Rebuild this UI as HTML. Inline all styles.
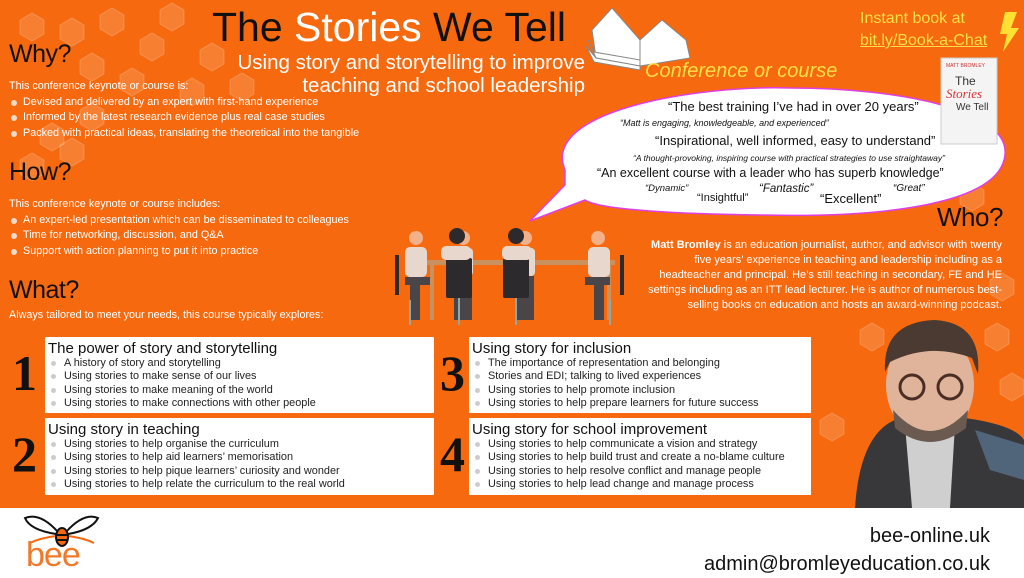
<!DOCTYPE html>
<html><head><meta charset="utf-8"><style>
*{margin:0;padding:0;box-sizing:border-box}
body{width:1024px;height:578px;overflow:hidden;background:#fff;font-family:"Liberation Sans",sans-serif;position:relative}
.or{position:absolute;left:0;top:0;width:1024px;height:508px;background:#f6690e}
.a{position:absolute;white-space:nowrap}
.h{font-size:25px;color:#111;letter-spacing:-0.5px}
.w{color:#fff;font-size:10.8px;line-height:15.5px}
.w li{list-style:none;padding-left:14px;position:relative}
.w li:before{content:"";position:absolute;left:2px;top:5px;width:6px;height:6px;border-radius:50%;background:#f3d9c8}
.box{position:absolute;background:#fff;padding:3px 0 0 3px}
.box .t{font-size:15px;color:#111;line-height:17px}
.box li{list-style:none;font-size:10.9px;color:#222;line-height:13.3px;padding-left:16px;position:relative}
.box li:before{content:"";position:absolute;left:3px;top:4px;width:5px;height:5px;border-radius:50%;background:#ccc}
.num{position:absolute;font-family:"Liberation Serif",serif;font-weight:bold;font-size:50px;color:#111}
.q{position:absolute;white-space:nowrap;color:#111}
</style></head><body>
<div class="or"></div>
<svg class="a" style="left:0;top:0" width="1024" height="508">
<g fill="#ffffff" fill-opacity="0.15" stroke="#fff" stroke-opacity="0.2">
<polygon points="20,20 32,13 44,20 44,34 32,41 20,34"/><polygon points="60,25 72,18 84,25 84,39 72,46 60,39"/>
<polygon points="100,15 112,8 124,15 124,29 112,36 100,29"/><polygon points="140,40 152,33 164,40 164,54 152,61 140,54"/>
<polygon points="80,60 92,53 104,60 104,74 92,81 80,74"/><polygon points="120,75 132,68 144,75 144,89 132,96 120,89"/>
<polygon points="160,10 172,3 184,10 184,24 172,31 160,24"/><polygon points="200,50 212,43 224,50 224,64 212,71 200,64"/>
<polygon points="180,85 192,78 204,85 204,99 192,106 180,99"/><polygon points="40,130 52,123 64,130 64,144 52,151 40,144"/>
<polygon points="80,110 92,103 104,110 104,124 92,131 80,124"/><polygon points="20,160 32,153 44,160 44,174 32,181 20,174"/>
<polygon points="230,80 242,73 254,80 254,94 242,101 230,94"/>
<polygon points="60,145 72,138 84,145 84,159 72,166 60,159"/>
<polygon points="960,190 972,183 984,190 984,204 972,211 960,204"/><polygon points="990,280 1002,273 1014,280 1014,294 1002,301 990,294"/>
<polygon points="1000,380 1012,373 1024,380 1024,394 1012,401 1000,394"/><polygon points="860,330 872,323 884,330 884,344 872,351 860,344"/>
<polygon points="985,330 997,323 1009,330 1009,344 997,351 985,344"/><polygon points="820,420 832,413 844,420 844,434 832,441 820,434"/>
</g>
<path d="M565,170 C540,110 700,85 790,88 C900,88 1010,110 1005,155 C1000,205 880,218 760,215 C680,214 600,210 585,200 L530,221 L565,185 Z" fill="#fff" stroke="#e040e0" stroke-width="1.5"/>
<g stroke="#888" stroke-width="1" fill="#fff">
<path d="M592,30 L612,8 L640,40 L640,66 L596,58 Z"/><path d="M640,40 L662,20 L686,40 L690,58 L640,66 Z"/>
<path d="M588,40 L596,58 L640,66 L640,60 L594,52 Z"/><path d="M586,46 L594,62 L640,70 L640,66 L596,58 Z"/>
</g>
<path d="M1005,12 L1017,12 L1011,28 L1019,28 L1003,52 L1007,34 L1000,34 Z" fill="#ffe033"/>
<rect x="941" y="58" width="56" height="86" fill="#f4f4f4" stroke="#ccc"/>
<text x="946" y="67" font-size="5" fill="#c33" font-family="Liberation Sans">MATT BROMLEY</text>
<text x="955" y="85" font-size="12" fill="#333" font-family="Liberation Sans">The</text>
<text x="946" y="98" font-size="13" fill="#d33" font-style="italic" font-family="Liberation Serif">Stories</text>
<text x="956" y="110" font-size="10" fill="#333" font-family="Liberation Sans">We Tell</text>
<g>
<rect x="425" y="260" width="190" height="5" fill="#c9915e"/>
<rect x="430" y="265" width="4" height="55" fill="#c9915e"/><rect x="607" y="265" width="4" height="55" fill="#c9915e"/>
<g fill="#e8d7cc"><rect x="405" y="247" width="22" height="30" rx="5"/><rect x="453" y="248" width="20" height="28" rx="4"/><rect x="515" y="248" width="20" height="28" rx="4"/><rect x="588" y="247" width="22" height="30" rx="5"/></g>
<g fill="#4a4548"><rect x="405" y="277" width="25" height="8"/><rect x="410" y="285" width="10" height="35"/><rect x="454" y="276" width="18" height="44"/><rect x="516" y="276" width="18" height="44"/><rect x="585" y="277" width="25" height="8"/><rect x="594" y="285" width="10" height="35"/></g>
<g fill="#f3b089"><circle cx="416" cy="238" r="7"/><circle cx="463" cy="238" r="7"/><circle cx="525" cy="238" r="7"/><circle cx="598" cy="238" r="7"/></g>
<g fill="#2c2a2c"><rect x="446" y="258" width="26" height="40" rx="2"/><rect x="503" y="258" width="26" height="40" rx="2"/><circle cx="457" cy="236" r="8"/><circle cx="516" cy="236" r="8"/><rect x="395" y="255" width="4" height="40"/><rect x="620" y="255" width="4" height="40"/></g>
<g fill="#e8d7cc"><rect x="441" y="246" width="30" height="14" rx="5"/><rect x="502" y="246" width="30" height="14" rx="5"/></g>
<g stroke="#8aa" stroke-width="2"><line x1="410" y1="300" x2="410" y2="325"/><line x1="459" y1="298" x2="459" y2="325"/><line x1="516" y1="298" x2="516" y2="325"/><line x1="610" y1="300" x2="610" y2="325"/></g>
</g>
<path d="M855,508 Q860,430 900,418 L965,418 Q1015,425 1024,440 L1024,508 Z" fill="#38383a"/>
<path d="M905,425 L955,425 L950,508 L912,508 Z" fill="#cfcfcf"/>
<path d="M975,430 L1024,445 L1024,480 L990,470 Z" fill="#50657a"/>
<ellipse cx="930" cy="385" rx="44" ry="54" fill="#e0b49a"/>
<path d="M885,372 Q882,322 935,320 Q982,323 978,374 L972,358 Q930,342 890,362 Z" fill="#4a3a32"/>
<path d="M893,410 Q930,452 968,410 L966,428 Q930,456 895,428 Z" fill="#6a5a50"/>
<g fill="none" stroke="#4a2e24" stroke-width="3"><circle cx="912" cy="387" r="12"/><circle cx="950" cy="387" r="12"/></g>
</svg>

<div class="a" style="left:212px;top:4px;font-size:41px;line-height:46px;color:#111">The <span style="color:#fff">Stories</span> We Tell</div>
<div class="a" style="left:185px;top:51px;width:400px;text-align:right;font-size:20.5px;line-height:23px;color:#fff">Using story and storytelling to improve<br>teaching and school leadership</div>
<div class="a" style="left:645px;top:60px;font-size:20px;font-style:italic;color:#ffe04a">Conference or course</div>
<div class="a" style="left:860px;top:8px;width:162px;text-align:left;font-size:16px;line-height:22px;color:#ffe04a">Instant book at<br><span style="text-decoration:underline">bit.ly/Book-a-Chat</span></div>

<div class="a h" style="left:9px;top:40px">Why?</div>
<div class="a w" style="left:9px;top:79px">This conference keynote or course is:<ul><li>Devised and delivered by an expert with first-hand experience</li><li>Informed by the latest research evidence plus real case studies</li><li>Packed with practical ideas, translating the theoretical into the tangible</li></ul></div>
<div class="a h" style="left:9px;top:158px">How?</div>
<div class="a w" style="left:9px;top:197px">This conference keynote or course includes:<ul><li>An expert-led presentation which can be disseminated to colleagues</li><li>Time for networking, discussion, and Q&amp;A</li><li>Support with action planning to put it into practice</li></ul></div>
<div class="a h" style="left:9px;top:276px">What?</div>
<div class="a w" style="left:9px;top:308px">Always tailored to meet your needs, this course typically explores:</div>

<div class="q" style="left:668px;top:99px;font-size:13px">“The best training I’ve had in over 20 years”</div>
<div class="q" style="left:620px;top:118px;font-size:9px;font-style:italic">“Matt is engaging, knowledgeable, and experienced”</div>
<div class="q" style="left:655px;top:133px;font-size:13px">“Inspirational, well informed, easy to understand”</div>
<div class="q" style="left:633px;top:153px;font-size:8.5px;font-style:italic">“A thought-provoking, inspiring course with practical strategies to use straightaway”</div>
<div class="q" style="left:597px;top:166px;font-size:12.5px">“An excellent course with a leader who has superb knowledge”</div>
<div class="q" style="left:645px;top:183px;font-size:9.5px;font-style:italic">“Dynamic”</div>
<div class="q" style="left:697px;top:192px;font-size:11px">“Insightful”</div>
<div class="q" style="left:759px;top:183px;font-size:11.5px;font-style:italic">“Fantastic”</div>
<div class="q" style="left:820px;top:191px;font-size:13px">“Excellent”</div>
<div class="q" style="left:893px;top:183px;font-size:10px;font-style:italic">“Great”</div>

<div class="a h" style="left:937px;top:202px;font-size:26px">Who?</div>
<div class="a" style="left:640px;top:238px;width:362px;text-align:right;white-space:normal;font-size:11px;line-height:15px;color:#fff"><b>Matt Bromley</b> is an education journalist, author, and advisor with twenty five years’ experience in teaching and leadership including as a headteacher and principal. He’s still teaching in secondary, FE and HE settings including as an ITT lead lecturer. He is author of numerous best-selling books on education and hosts an award-winning podcast.</div>

<div class="num" style="left:12px;top:344px">1</div>
<div class="num" style="left:12px;top:425px">2</div>
<div class="num" style="left:440px;top:344px">3</div>
<div class="num" style="left:440px;top:425px">4</div>
<div class="box" style="left:45px;top:337px;width:389px;height:76px"><div class="t">The power of story and storytelling</div><ul><li>A history of story and storytelling</li><li>Using stories to make sense of our lives</li><li>Using stories to make meaning of the world</li><li>Using stories to make connections with other people</li></ul></div>
<div class="box" style="left:45px;top:418px;width:389px;height:77px"><div class="t">Using story in teaching</div><ul><li>Using stories to help organise the curriculum</li><li>Using stories to help aid learners’ memorisation</li><li>Using stories to help pique learners’ curiosity and wonder</li><li>Using stories to help relate the curriculum to the real world</li></ul></div>
<div class="box" style="left:469px;top:337px;width:342px;height:76px"><div class="t">Using story for inclusion</div><ul><li>The importance of representation and belonging</li><li>Stories and EDI; talking to lived experiences</li><li>Using stories to help promote inclusion</li><li>Using stories to help prepare learners for future success</li></ul></div>
<div class="box" style="left:469px;top:418px;width:342px;height:77px"><div class="t">Using story for school improvement</div><ul><li>Using stories to help communicate a vision and strategy</li><li>Using stories to help build trust and create a no-blame culture</li><li>Using stories to help resolve conflict and manage people</li><li>Using stories to help lead change and manage process</li></ul></div>

<svg class="a" style="left:20px;top:512px" width="80" height="36">
<path d="M38,20 Q20,0 5,6 Q10,18 36,22" fill="none" stroke="#111" stroke-width="2"/>
<path d="M46,20 Q64,0 78,6 Q72,18 48,22" fill="none" stroke="#111" stroke-width="2"/>
<path d="M36,24 Q20,26 10,31 M48,24 Q64,26 74,31" fill="none" stroke="#f6690e" stroke-width="2"/>
<ellipse cx="42" cy="25" rx="6" ry="9" fill="#f6690e" stroke="#111" stroke-width="2"/>
<line x1="36" y1="23" x2="48" y2="23" stroke="#111" stroke-width="2"/>
<line x1="36" y1="28" x2="48" y2="28" stroke="#111" stroke-width="2"/>
</svg>
<div class="a" style="left:26px;top:538px;font-size:34px;line-height:34px;color:#f07a2a;letter-spacing:-1px">bee</div>
<div class="a" style="left:610px;top:522px;width:380px;text-align:right;font-size:20px;line-height:28px;color:#111">bee-online.uk<br>admin@bromleyeducation.co.uk</div>
</body></html>
